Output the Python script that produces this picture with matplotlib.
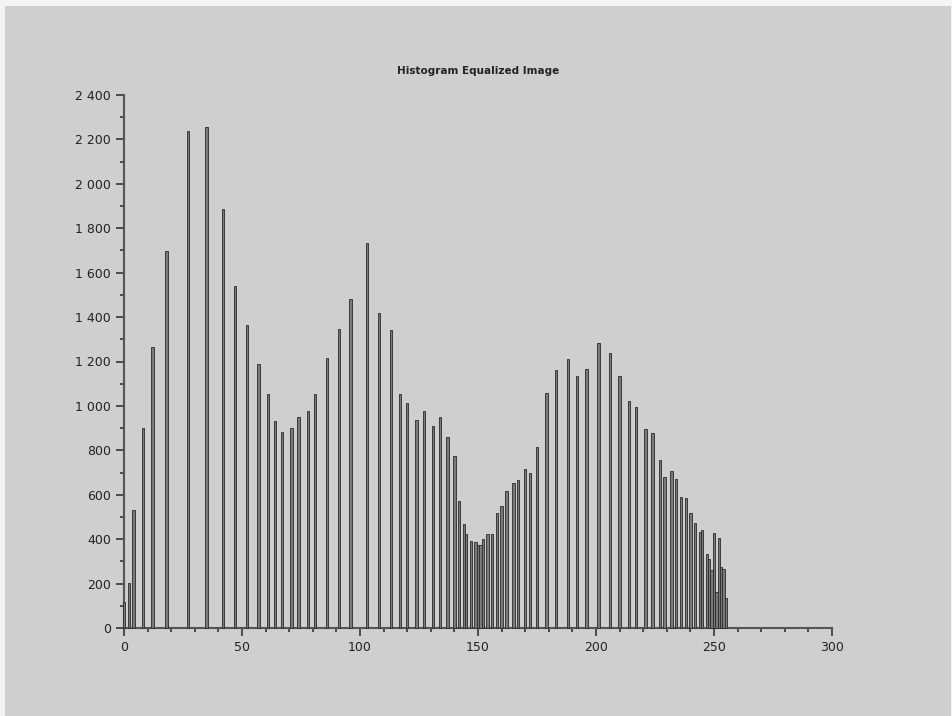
import matplotlib
matplotlib.use('Agg')
import matplotlib.pyplot as plt
from matplotlib.patches import Rectangle
from matplotlib.ticker import MultipleLocator, FuncFormatter

# grey levels and their counts
levels = [0, 2, 4, 8, 12, 18, 27, 35, 42, 47, 52, 57, 61, 64, 67, 71, 74, 78, 81, 86,
          91, 96, 103, 108, 113, 117, 120, 124, 127, 131, 134, 137, 140, 142, 144, 145,
          147, 149, 150, 151, 152, 154, 156, 158, 160, 162, 165, 167, 170, 172, 175, 179,
          183, 188, 192, 196, 201, 206, 210, 214, 217, 221, 224, 227, 229, 232, 234, 236,
          238, 240, 242, 244, 245, 247, 248, 249, 250, 251, 252, 253, 254, 255]
counts = [117, 204, 530, 902, 1266, 1699, 2237, 2258, 1886, 1538, 1365, 1190, 1052, 930,
          883, 902, 952, 976, 1052, 1217, 1348, 1481, 1732, 1417, 1341, 1053, 1014, 937,
          979, 908, 952, 860, 776, 574, 470, 422, 393, 387, 375, 372, 401, 422, 422, 518,
          548, 617, 651, 666, 715, 699, 814, 1056, 1161, 1210, 1134, 1165, 1285, 1237,
          1135, 1023, 994, 898, 880, 757, 682, 709, 671, 591, 584, 517, 473, 432, 443,
          335, 312, 263, 428, 162, 407, 275, 267, 137]

fig = plt.figure(figsize=(9.53, 7.16), dpi=100, facecolor='#cfcfcf')
# thin light border along the left, top and right edges
fig.patches.append(Rectangle((0, 0), 5 / 953, 1, transform=fig.transFigure,
                             facecolor='#f4f4f4', edgecolor='none'))
fig.patches.append(Rectangle((0, 1 - 6 / 716), 1, 6 / 716, transform=fig.transFigure,
                             facecolor='#f4f4f4', edgecolor='none'))
fig.patches.append(Rectangle((951 / 953, 0), 2 / 953, 1, transform=fig.transFigure,
                             facecolor='#f4f4f4', edgecolor='none'))

ax = fig.add_axes([124 / 953, 1 - 628 / 716, (832 - 124) / 953, (628 - 95) / 716])
ax.patch.set_visible(False)

bars = ax.bar(levels, counts, width=1.0, color='#7a7a7a', edgecolor='#2a2a2a',
              linewidth=0.6, zorder=3, clip_on=False)

ax.set_xlim(0, 300)
ax.set_ylim(0, 2400)
ax.spines['top'].set_visible(False)
ax.spines['right'].set_visible(False)
for s in ('left', 'bottom'):
    ax.spines[s].set_color('#555555')
    ax.spines[s].set_linewidth(1.5)

ax.xaxis.set_major_locator(MultipleLocator(50))
ax.xaxis.set_minor_locator(MultipleLocator(10))
ax.yaxis.set_major_locator(MultipleLocator(200))
ax.yaxis.set_minor_locator(MultipleLocator(100))
ax.yaxis.set_major_formatter(FuncFormatter(lambda v, p: f'{int(v):,}'.replace(',', ' ')))
ax.tick_params(which='major', length=6, width=1.2, color='#333333', labelsize=9,
               labelcolor='#222222')
ax.tick_params(which='minor', length=3, width=1.2, color='#333333')

fig.text(478 / 953, 1 - 71 / 716, 'Histogram Equalized Image', ha='center', va='center',
         fontsize=7.5, fontweight='bold', color='#222222')

fig.savefig('out.png', dpi=100, facecolor=fig.get_facecolor())
